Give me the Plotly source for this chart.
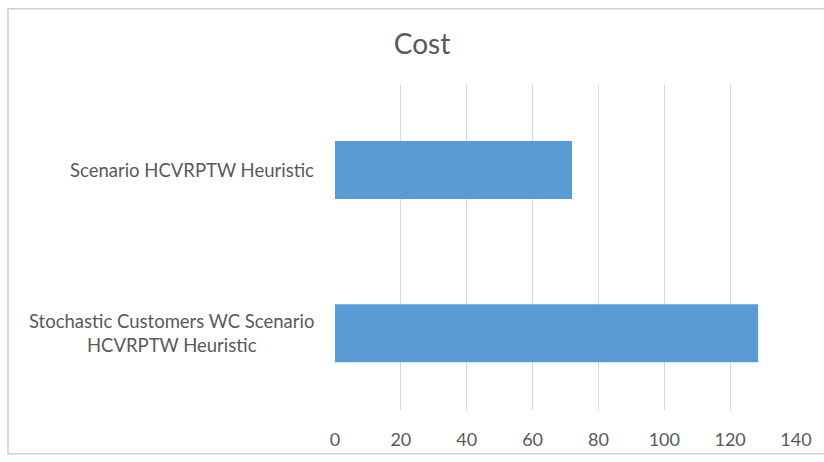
import plotly.graph_objects as go

categories = ["Stochastic Customers WC Scenario<br>HCVRPTW Heuristic",
              "Scenario HCVRPTW Heuristic"]
values = [128.5, 72]
x_ticks = [0, 20, 40, 60, 80, 100, 120, 140]
title = "Cost"

W, H = 824, 462
L, R, T, B = 335, 28, 85, 47
pw, ph = W - L - R, H - T - B
FONT = "Lato"
GRAY = "#595959"

fig = go.Figure(go.Bar(
    y=categories, x=values, orientation="h",
    marker=dict(color="#5B9BD5", line=dict(width=0)),
    width=0.355,
))

for c in categories:
    fig.add_annotation(x=0, xref="paper", y=c, yref="y", text=c,
                       xanchor="right", xshift=-19, align="center",
                       showarrow=False,
                       font=dict(family=FONT, size=18.5, color=GRAY))

def px_x(p):
    return (p - L) / pw

def px_y(p):
    return (H - B - p) / ph

fig.add_shape(type="rect", xref="paper", yref="paper",
              x0=px_x(8), x1=px_x(830), y0=px_y(459.5), y1=px_y(7.5),
              line=dict(color="#D0D0D0", width=1.5), fillcolor="rgba(0,0,0,0)",
              layer="below")

fig.update_layout(
    width=W, height=H,
    margin=dict(l=L, r=R, t=T, b=B),
    paper_bgcolor="white", plot_bgcolor="white",
    title=dict(text=title, x=422 / W, xanchor="center", y=1 - 44 / H, yanchor="middle",
               font=dict(family=FONT, size=28, color=GRAY)),
    showlegend=False,
    xaxis=dict(range=[0, 140], tickvals=x_ticks, showgrid=True, gridcolor="#D9D9D9",
               gridwidth=1, zeroline=False, showline=False,
               ticks="", ticklabelstandoff=17,
               tickfont=dict(family=FONT, size=18, color=GRAY)),
    yaxis=dict(showticklabels=False, showgrid=False, zeroline=False, showline=False,
               ticks="", range=[-0.47, 1.52]),
)

fig.write_html("out.html")
